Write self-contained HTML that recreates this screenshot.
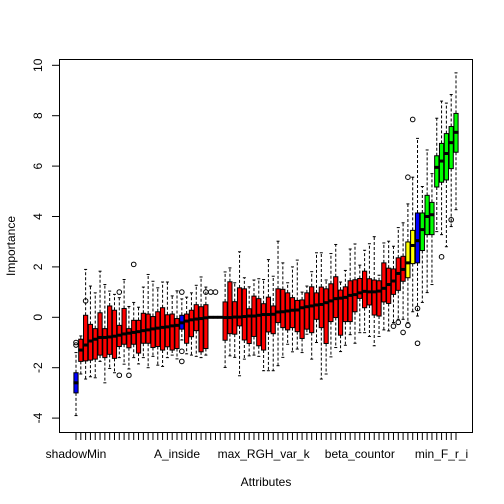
<!DOCTYPE html>
<html><head><meta charset="utf-8"><style>
body{margin:0;background:#fff}
svg{display:block;font-family:"Liberation Sans",Arial,sans-serif}
</style></head><body>
<svg id="chart" width="504" height="504" viewBox="0 0 504 504">
<rect x="0" y="0" width="504" height="504" fill="#fff"/>
<g id="marks"></g>
<g id="axes"></g>
<rect x="59.5" y="59.5" width="413" height="373" fill="none" stroke="#000" stroke-width="1"/>
<text transform="translate(15,246) rotate(-90)" text-anchor="middle" font-size="12">Importance</text>
<text x="266" y="486" text-anchor="middle" font-size="12">Attributes</text>
</svg>
<script>
const medians=[-2.6,-1.3,-1.1,-0.94,-0.87,-0.8,-0.8,-0.78,-0.75,-0.71,-0.66,-0.63,-0.6,-0.57,-0.53,-0.5,-0.46,-0.43,-0.4,-0.38,-0.34,-0.32,-0.22,-0.15,-0.1,-0.07,-0.05,-0.02,0,0,0,-0.01,-0.01,0.01,0.01,0.03,0.05,0.05,0.08,0.11,0.11,0.12,0.21,0.22,0.25,0.28,0.29,0.38,0.42,0.45,0.49,0.51,0.58,0.65,0.74,0.76,0.79,0.87,0.9,0.97,1.03,1.01,1.01,1.04,1.15,1.3,1.44,1.74,1.9,2.16,2.85,3.04,3.48,4.0,4.07,5.95,6.2,6.5,6.93,7.34];
const q3s=[-2.2,-0.87,0.08,-0.28,-0.45,0.18,-0.45,0.45,0.28,-0.32,0.35,-0.45,-0.12,-0.12,0.16,0.13,0.03,0.22,0.38,0.1,0.13,-0.05,0.08,0.13,0.28,0.5,0.42,0.5,0,0,0,0.61,1.41,0.62,1.17,1.13,0.34,0.84,0.74,0.54,0.8,0.45,1.13,1.11,0.97,0.78,0.67,0.69,0.97,1.21,0.97,1.2,1.13,1.33,1.61,1.08,1.21,1.45,1.49,1.54,1.83,1.53,1.48,1.45,2.16,1.95,1.92,2.36,2.42,2.99,3.45,4.14,4.14,4.84,4.56,6.41,6.9,7.29,7.57,8.09];
const q1s=[-3.0,-1.75,-1.73,-1.7,-1.66,-1.5,-1.6,-1.47,-1.63,-1.16,-1.07,-1.21,-1.07,-1.42,-1.03,-1.03,-1.2,-1.16,-1.3,-1.17,-1.3,-1.24,-0.47,-1.03,-0.77,-0.53,-1.37,-1.24,0,0,0,-0.91,-0.65,-0.67,-0.34,-0.9,-1.04,-0.76,-1.13,-1.3,-0.58,-0.65,-0.21,-0.41,-0.5,-0.41,-0.57,-0.84,-0.47,-0.61,-0.08,-0.41,-1.04,-0.17,-0.01,-0.71,-0.17,-0.17,0.22,0.75,0.38,0.49,0.09,0.05,0.61,0.55,0.91,1.07,1.43,1.57,2.13,2.16,2.65,3.28,3.28,5.17,5.36,5.45,5.9,6.55];
const his=[-1.4,-0.74,1.9,1.24,0.97,1.83,1.3,1.04,0.91,0.78,1.5,0.43,0.59,0.4,1.2,1.7,1.43,1.17,1.4,1.4,0.85,1.05,0.73,0.8,0.97,1.27,1.6,1.2,0,0,0,1.8,1.96,1.37,2.6,1.57,1.21,1.48,1.53,1.5,2.29,1.63,3.02,2.16,1.37,2.0,2.27,1.0,1.24,1.81,2.56,2.56,1.48,2.53,2.89,1.4,1.86,2.71,2.91,2.07,2.66,2.92,3.2,1.67,2.95,3.02,2.82,3.56,3.75,4.5,5.56,7.1,5.19,6.64,5.7,7.9,8.58,8.5,8.84,9.7];
const los=[-3.9,-2.25,-2.45,-2.36,-2.4,-1.75,-2.6,-2.03,-2.2,-1.6,-1.86,-2.05,-1.6,-1.85,-1.6,-2.0,-1.55,-1.9,-1.95,-1.6,-1.5,-1.65,-0.9,-1.45,-1.5,-1.55,-1.6,-1.5,0,0,0,-1.99,-1.53,-1.59,-2.32,-1.66,-1.53,-1.5,-1.55,-2.12,-2.12,-2.12,-1.92,-1.59,-1.07,-1.37,-1.26,-1.4,-0.67,-1.66,-1.0,-2.45,-2.25,-1.57,-1.2,-1.36,-1.11,-0.69,-1.03,-0.61,-0.61,-0.76,-1.13,-0.76,-0.5,-0.54,-0.21,-0.08,-0.08,-0.2,0.22,0.05,0.59,0.98,1.3,3.4,3.28,2.8,3.6,4.27];
const outIdx=[0,0,2,9,9,11,12,22,22,22,27,28,29,66,67,68,69,69,70,71,71,76,78];
const outVal=[-1.0,-1.1,0.65,1.0,-2.3,-2.3,2.1,1.0,-1.35,-1.75,1.0,1.0,1.0,-0.35,-0.2,-0.6,5.56,-0.32,7.85,0.35,-1.03,2.4,3.87];
const colors=[];
for(let i=0;i<medians.length;i++){colors.push(i===0||i===22||i===71?'#0000ff':(i===69||i===70?'#ffff00':(i>=72?'#00ff00':'#ff0000')));}
const yTicks=[-4,-2,0,2,4,6,8,10];
const xLabelIdx=[0,21,39,59,76];
const xLabels=['shadowMin','A_inside','max_RGH_var_k','beta_countor','min_F_r_i'];

const NS='http://www.w3.org/2000/svg';
const n=medians.length;
function xs(i){return 76+i*(380/(n-1));}
function ys(v){return 317.3-v*25.2;}
function mk(tag,attrs,parent){const e=document.createElementNS(NS,tag);for(const k in attrs)e.setAttribute(k,attrs[k]);parent.appendChild(e);return e;}
const marks=document.getElementById('marks');
const axes=document.getElementById('axes');
const hw=2.1;
for(let i=0;i<n;i++){
  const g=mk('g',{},marks);
  
  
  const x=xs(i);
  mk('line',{x1:x,x2:x,y1:ys(q3s[i]),y2:ys(his[i]),stroke:'#000','stroke-dasharray':'3,2','stroke-width':1},g);
  mk('line',{x1:x,x2:x,y1:ys(q1s[i]),y2:ys(los[i]),stroke:'#000','stroke-dasharray':'3,2','stroke-width':1},g);
  mk('line',{x1:x-1.5,x2:x+1.5,y1:ys(his[i]),y2:ys(his[i]),stroke:'#000'},g);
  mk('line',{x1:x-1.5,x2:x+1.5,y1:ys(los[i]),y2:ys(los[i]),stroke:'#000'},g);
  const top=ys(q3s[i]),bot=ys(q1s[i]);
  mk('rect',{x:x-hw,y:top,width:2*hw,height:Math.max(bot-top,0.1),fill:colors[i],stroke:'#000','stroke-width':1},g);
  mk('line',{x1:x-hw-0.5,x2:x+hw+0.5,y1:ys(medians[i]),y2:ys(medians[i]),stroke:'#000','stroke-width':3},g);
}
for(let k=0;k<outIdx.length;k++){
  const c=mk('circle',{cx:xs(outIdx[k]),cy:ys(outVal[k]),r:2.3,fill:'none',stroke:'#000','stroke-width':1},marks);
  
  
}
mk('line',{x1:59.5,x2:59.5,y1:ys(-4),y2:ys(10),stroke:'#000'},axes);
for(const t of yTicks){
  const y=ys(t);
  mk('line',{x1:52,x2:59.5,y1:y,y2:y,stroke:'#000'},axes);
  const tx=mk('text',{transform:'translate(42,'+y+') rotate(-90)','text-anchor':'middle','font-size':12},axes);
  tx.textContent=t;
  
  
}
mk('line',{x1:xs(0),x2:xs(n-1),y1:432.5,y2:432.5,stroke:'#000'},axes);
for(let i=0;i<n;i++){mk('line',{x1:xs(i),x2:xs(i),y1:432.5,y2:440,stroke:'#000'},axes);}
for(let k=0;k<xLabels.length;k++){
  const tx=mk('text',{x:xs(xLabelIdx[k]),y:458,'text-anchor':'middle','font-size':12},axes);
  tx.textContent=xLabels[k];
  
  
}
</script>
</body></html>
